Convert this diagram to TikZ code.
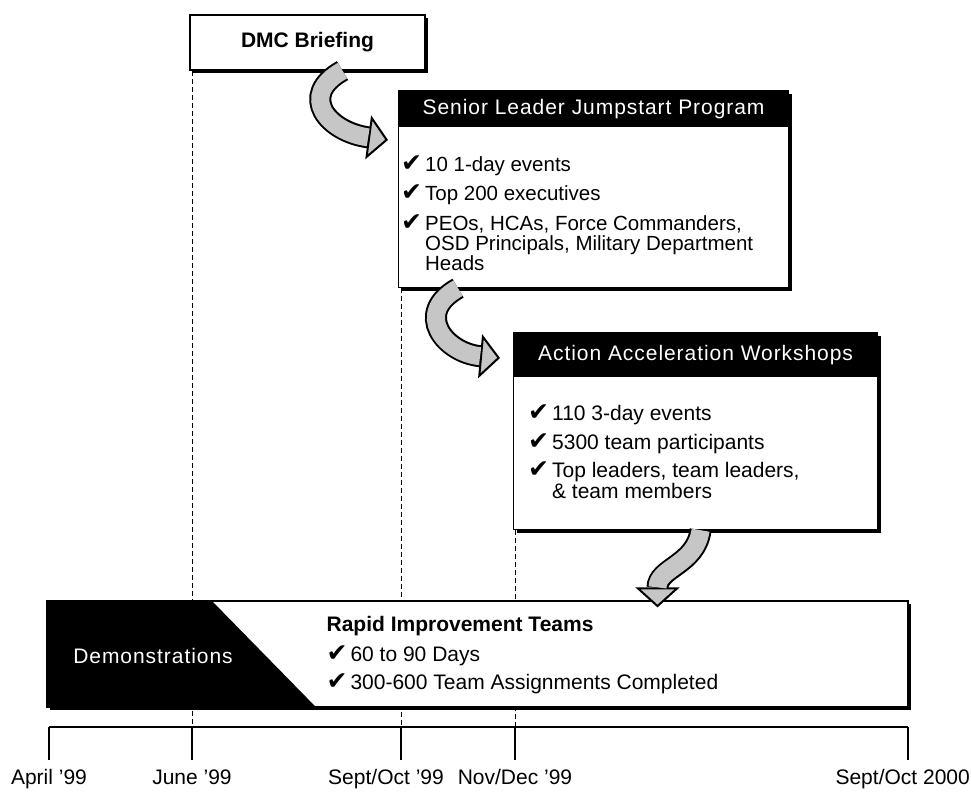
\documentclass[tikz,border=0pt]{standalone}
\usepackage{fontspec}
\setmainfont{Liberation Sans}
\newfontfamily\checkfont{DejaVu Sans}
\newfontfamily\headfont[LetterSpace=4.5]{Liberation Sans}
\usetikzlibrary{arrows.meta,shadows,calc}
\newcommand{\chk}{{\checkfont\fontsize{25}{25}\selectfont\char"2714}\hspace{3pt}}
\newcommand{\nochk}{\hphantom{\chk}}
\tikzset{
  box/.style={draw, line width=1.2pt, fill=white,
    drop shadow={shadow xshift=3pt, shadow yshift=-3pt, fill=black, opacity=1}},
  headbar/.style={fill=black, text=white, inner sep=0pt,
    font=\headfont\fontsize{21}{21}\selectfont},
  itemlist/.style={align=left, inner sep=0pt, anchor=base west},
  dashline/.style={line width=0.8pt, dash pattern=on 5pt off 3pt},
  flowarrow/.style={draw=black, line width=22pt,
    -{Triangle[length=20pt, width=44pt, line width=2pt, fill=gray!45]},
    postaction={draw=gray!45, line width=18pt, shorten >=20pt, -}},
  datelabel/.style={anchor=base, inner sep=0pt, font=\fontsize{21}{21}\selectfont}
}
\begin{document}
\begin{tikzpicture}[x=1pt, y=-1pt]
  \useasboundingbox (0,0) rectangle (971,792);

  % time line
  \coordinate (apr) at (49,727);
  \coordinate (jun) at (192,727);
  \coordinate (sep) at (401,727);
  \coordinate (nov) at (515,727);
  \coordinate (sepb) at (908,727);

  \node[box, minimum width=235pt, minimum height=55pt, font=\bfseries\fontsize{21}{21}\selectfont] (dmc) at (307.5,42.5) {DMC Briefing};
  \node[box, minimum width=390pt, minimum height=197pt, anchor=north west] (slj) at (398,90) {};
  \node[box, minimum width=364pt, minimum height=197pt, anchor=north west] (aaw) at (513,332) {};

  \draw[dashline] (jun |- dmc.south) -- (jun);
  \draw[dashline] (sep |- slj.south) -- (sep);
  \draw[dashline] (nov |- aaw.south) -- (nov);

  % last line on the base anchor
  \node[headbar, minimum width=390pt, minimum height=37pt, anchor=north] (sljhead) at (slj.north) {Senior Leader Jumpstart Program};
  \node[itemlist, font=\fontsize{20.5}{20}\selectfont] (sljitems) at ([shift={(3pt,-180pt)}]slj.north west)
    {\chk 10 1-day events\\[8pt]
     \chk Top 200 executives\\[8pt]
     \chk PEOs, HCAs, Force Commanders,\\
     \nochk OSD Principals, Military Department\\
     \nochk Heads};

  \node[headbar, minimum width=364pt, minimum height=45pt, anchor=north] (aawhead) at (aaw.north) {Action Acceleration Workshops};
  \node[itemlist, font=\fontsize{21}{21}\selectfont] (aawitems) at ([shift={(15pt,-166.5pt)}]aaw.north west)
    {\chk 110 3-day events\\[8pt]
     \chk 5300 team participants\\[7pt]
     \chk Top leaders, team leaders,\\
     \nochk \& team members};

  % bottom bar
  \node[box, minimum width=861pt, minimum height=106pt] (rit) at (477.5,654) {};
  \fill (rit.north west) -- ([xshift=165pt]rit.north west) -- ([xshift=270pt]rit.south west) -- (rit.south west) -- cycle;
  \node[headbar, fill=none] (demo) at (153,656) {Demonstrations};
  \node[itemlist, font=\fontsize{21}{28}\selectfont] (rititems) at ([shift={(280pt,-89.5pt)}]rit.north west)
    {\textbf{Rapid Improvement Teams}\\[2pt]
     \chk 60 to 90 Days\\
     \chk 300-600 Team Assignments Completed};

  % arrows
  \draw[flowarrow] ([xshift=35pt]dmc.south) .. controls +(-45,25) and +(-60,-8) .. ([shift={(-10pt,-50pt)}]slj.north west);
  \draw[flowarrow] ([xshift=60pt]slj.south west) .. controls +(-45,25) and +(-55,-5) .. ([shift={(-13pt,-26pt)}]aaw.north west);
  \draw[flowarrow] ([xshift=5pt]aaw.south) .. controls +(-5,35) and +(0,-40) .. ([shift={(180pt,-7pt)}]rit.north);

  \draw[line width=1.2pt] (apr) -- (sepb);
  \foreach \t in {apr, jun, sep, nov, sepb}
    \draw[line width=1.2pt] (\t) -- ++(0,33) coordinate (\t end);
  \node[datelabel] (aprlab) at ([yshift=-24pt]aprend) {April '99};
  \node[datelabel] (junlab) at ([yshift=-24pt]junend) {June '99};
  \node[datelabel] (seplab) at ([shift={(-15pt,-24pt)}]sepend) {Sept/Oct '99};
  \node[datelabel] (novlab) at ([yshift=-24pt]novend) {Nov/Dec '99};
  \node[datelabel, anchor=base east] (sepblab) at ([shift={(62pt,-24pt)}]sepbend) {Sept/Oct 2000};
\end{tikzpicture}
\end{document}
